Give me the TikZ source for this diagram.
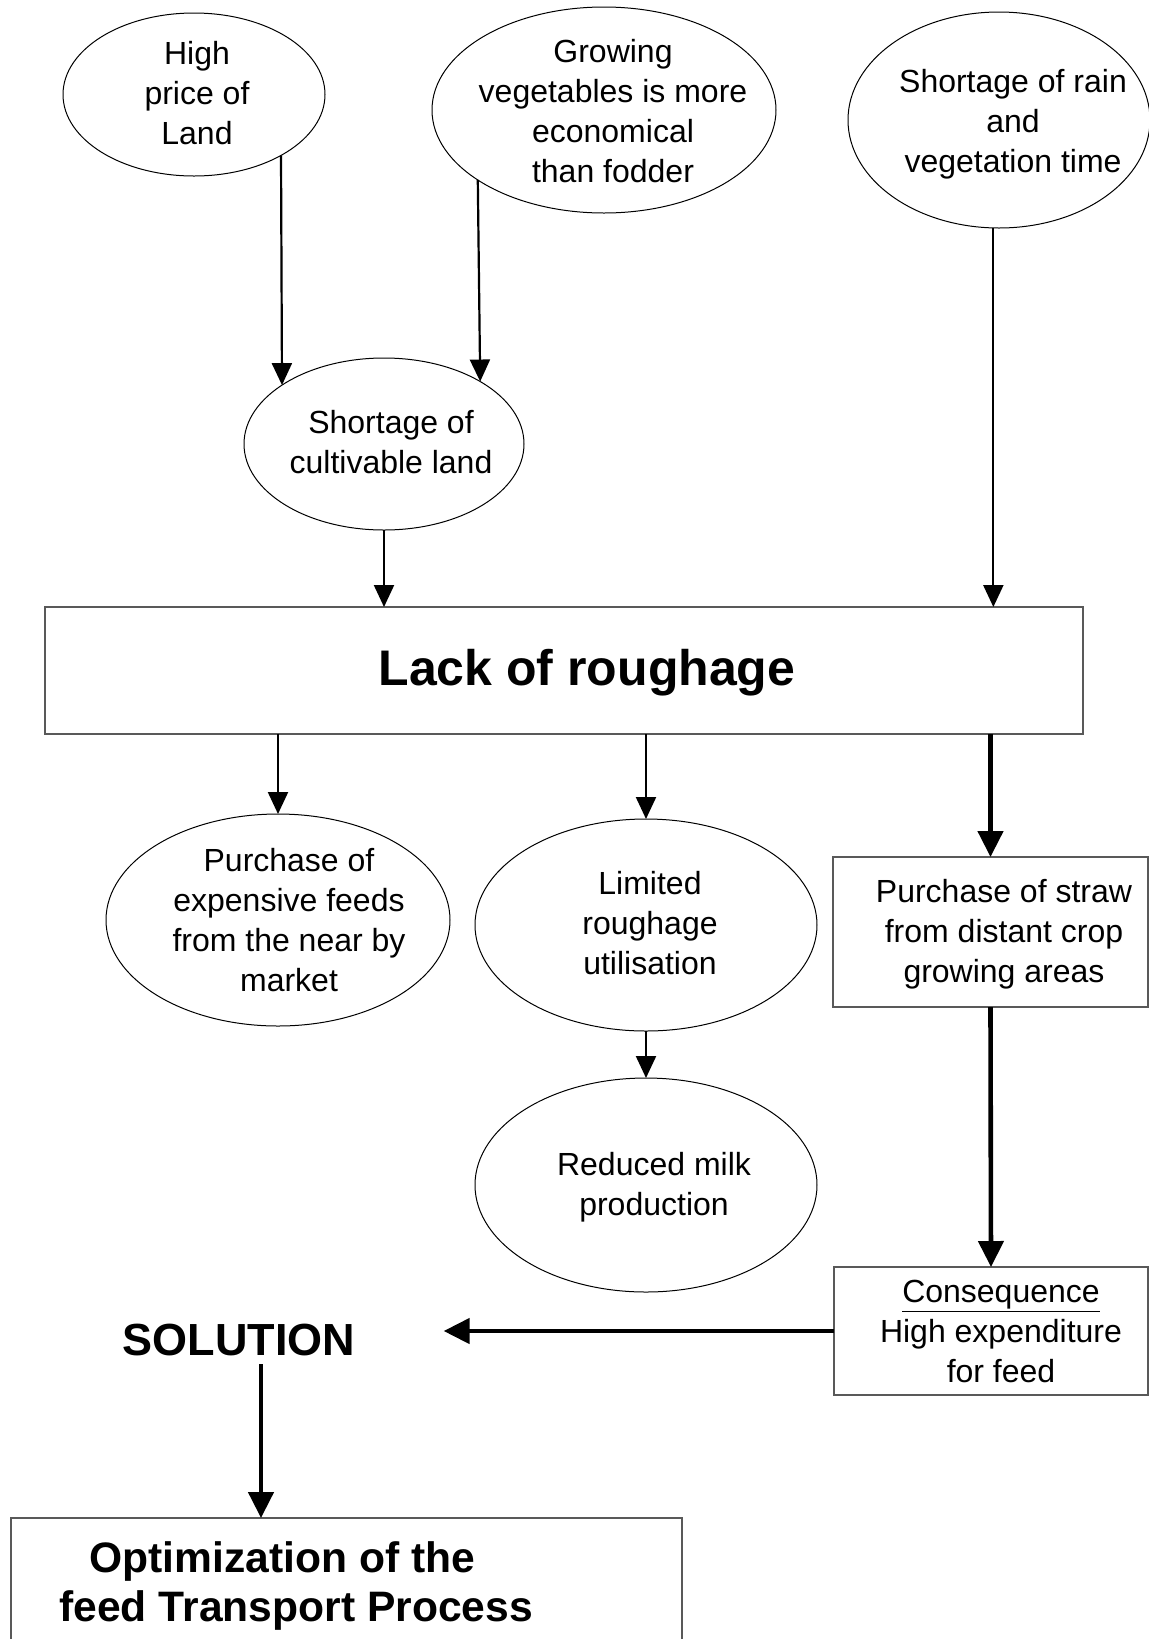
\documentclass[tikz,border=0pt]{standalone}
\usepackage{fontspec}
\setmainfont{Liberation Sans}
\usetikzlibrary{shapes.geometric,arrows.meta}
\begin{document}
\begin{tikzpicture}[x=0.5pt,y=-0.5pt,
  oval/.style={draw=black, line width=0.5pt, ellipse, inner sep=0pt, outer sep=0pt},
  rbox/.style={draw=black!65, line width=0.6pt, rectangle, inner sep=0pt, outer sep=0pt},
  txt/.style={align=center, inner sep=0pt, font=\fontsize{16}{20}\selectfont},
  thinarrow/.style={line width=1.1pt, -{Triangle[length=11pt,width=10pt]}},
  thickarrow/.style={line width=2.3pt, -{Triangle[length=13pt,width=12.5pt]}}]
\clip (0,0) rectangle (1149,1639);
% top ellipses
\node[oval, minimum width=131pt, minimum height=81.5pt] (hp) at (194,94.5) {};
\node[txt] (hpt) at (197,93) {High\\price of\\Land};
\node[oval, minimum width=172pt, minimum height=103pt] (gv) at (604,110) {};
\node[txt] (gvt) at (613,111) {Growing\\vegetables is more\\economical\\than fodder};
\node[oval, minimum width=151pt, minimum height=108pt] (sr) at (999,120) {};
\node[txt] (srt) at (1013,124) {Shortage of rain\\and\\vegetation time};
\node[oval, minimum width=140pt, minimum height=86pt] (cl) at (384,444) {};
\node[txt] (clt) at (391,442) {Shortage of\\cultivable land};
% main box
\node[rbox, minimum width=519pt, minimum height=63.5pt] (lack) at (564,670.5) {};
\node[inner sep=0pt, font=\fontsize{25}{30}\selectfont\bfseries] (lackt) at (587,673) {Lack of roughage};
% effects
\node[oval, minimum width=172pt, minimum height=106pt] (pe) at (278,920) {};
\node[txt] (pet) at (289,920) {Purchase of\\expensive feeds\\from the near by\\market};
\node[oval, minimum width=171pt, minimum height=106pt] (lr) at (646,925) {};
\node[txt] (lrt) at (650,923) {Limited\\roughage\\utilisation};
\node[rbox, minimum width=157.5pt, minimum height=75pt] (ps) at (990.5,932) {};
\node[txt] (pst) at (1004,934) {Purchase of straw\\from distant crop\\growing areas};
\node[oval, minimum width=171pt, minimum height=107pt] (rm) at (646,1185) {};
\node[txt] (rmt) at (654,1187) {Reduced milk\\production};
\node[rbox, minimum width=157pt, minimum height=64pt] (cq) at (991,1331) {};
\node[txt] (cqt) at (1001,1331) {\underline{Consequence}\\High expenditure\\for feed};
% solution
\node[inner xsep=44pt, inner ysep=4pt, font=\fontsize{22.5}{27}\selectfont\bfseries] (sol) at (239,1340) {SOLUTION};
\node[rbox, minimum width=335.5pt, minimum height=70pt] (opt) at (346.5,1588) {};
\node[anchor=west, align=left, inner sep=0pt, font=\fontsize{21.3}{24.5}\selectfont\bfseries] (optt) at (59,1586) {\hspace*{15pt}Optimization of the\\feed Transport Process};
% connectors
\draw[thinarrow] (hp.325.5) -- (cl.150);
\draw[thinarrow] (gv.209.9) -- (cl.33.1);
\draw[thinarrow] (cl.south) -- (cl.south |- lack.north);
\draw[thinarrow] (sr.267.4) -- (sr.267.4 |- lack.north);
\draw[thinarrow] (pe.north |- lack.south) -- (pe.north);
\draw[thinarrow] (lr.north |- lack.south) -- (lr.north);
\draw[thickarrow] (ps.north |- lack.south) -- (ps.north);
\draw[thinarrow] (lr.south) -- (rm.north);
\draw[thickarrow] (ps.south) -- (cq.north);
\draw[thickarrow] (cq.west) -- (cq.west -| sol.east);
\draw[thickarrow] ([xshift=11pt]sol.south) -- ([xshift=11pt]sol.south |- opt.north);
\end{tikzpicture}
\end{document}
